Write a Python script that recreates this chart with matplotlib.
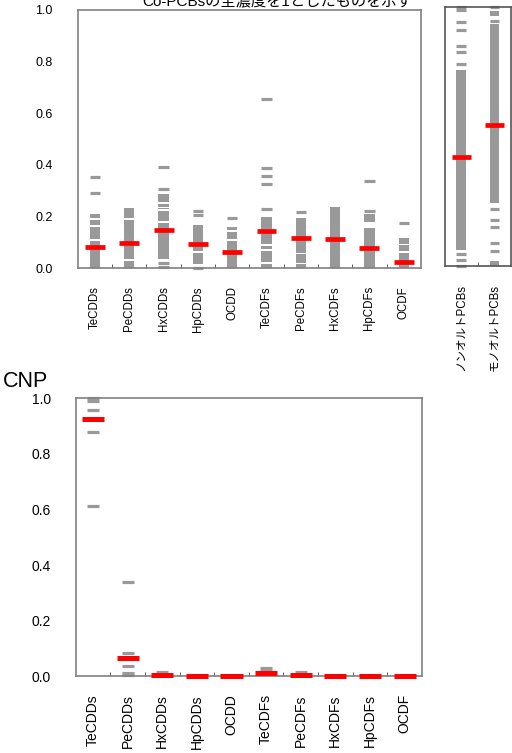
import matplotlib
matplotlib.use("Agg")
import matplotlib.pyplot as plt

plt.rcParams['font.family'] = ['Liberation Sans', 'Noto Sans CJK JP', 'DejaVu Sans']

GRAY = '#999999'
RED = '#ff0000'
EDGE = '#808080'

# --- data ---
dxn_labels = ['TeCDDs', 'PeCDDs', 'HxCDDs', 'HpCDDs', 'OCDD',
              'TeCDFs', 'PeCDFs', 'HxCDFs', 'HpCDFs', 'OCDF']

# top panel: individual sample ratios (isolated dashes) and dense ranges
top_dashes = [
    [0.353, 0.292],
    [],
    [0.393, 0.307, 0.018, 0.003],
    [0.222, 0.204, 0.0],
    [0.193],
    [0.655, 0.389, 0.357, 0.324, 0.229],
    [0.218],
    [],
    [0.338, 0.221],
    [0.176],
]
top_bands = [
    [(0.0, 0.105), (0.113, 0.160), (0.166, 0.188), (0.194, 0.210)],
    [(0.0, 0.027), (0.034, 0.187), (0.193, 0.234)],
    [(0.036, 0.176), (0.183, 0.222), (0.228, 0.232), (0.237, 0.248), (0.254, 0.288)],
    [(0.014, 0.058), (0.065, 0.165)],
    [(0.0, 0.106), (0.112, 0.140), (0.146, 0.160)],
    [(0.0, 0.015), (0.022, 0.066), (0.073, 0.086), (0.092, 0.199)],
    [(0.0, 0.015), (0.021, 0.054), (0.060, 0.195)],
    [(0.0, 0.238)],
    [(0.0, 0.156), (0.180, 0.208)],
    [(0.0, 0.060), (0.066, 0.088), (0.094, 0.117)],
]
top_median = [0.080, 0.097, 0.147, 0.094, 0.061, 0.143, 0.117, 0.111, 0.079, 0.024]

pcb_labels = ['ノンオルトPCBs', 'モノオルトPCBs']
pcb_dashes = [
    [1.0, 0.988, 0.942, 0.911, 0.849, 0.824, 0.780, 0.045, 0.022, 0.0],
    [1.0, 0.947, 0.220, 0.178, 0.148, 0.088, 0.059],
]
pcb_bands = [
    [(0.062, 0.757)],
    [(0.963, 0.985), (0.244, 0.934), (0.0, 0.017)],
]
pcb_median = [0.42, 0.543]

cnp_dashes = [
    [1.0, 0.99, 0.959, 0.879, 0.612],
    [0.338, 0.085, 0.038, 0.012, 0.004],
    [0.014],
    [],
    [],
    [0.028, 0.018],
    [0.015],
    [],
    [],
    [],
]
cnp_median = [0.927, 0.066, 0.003, 0.0, 0.0, 0.01, 0.003, 0.0, 0.0, 0.0]

title = 'Co-PCBsの全濃度を1としたものを示す'


def draw_panel(ax, dashes, bands, median, gw, rw, glw, rlw):
    for i in range(len(median)):
        for lo, hi in bands[i] if bands else []:
            ax.bar(i, hi - lo, bottom=lo, width=gw, color=GRAY, clip_on=False, zorder=2)
        if dashes[i]:
            ax.hlines(dashes[i], i - gw / 2, i + gw / 2, color=GRAY, lw=glw,
                      clip_on=False, zorder=2)
    ax.hlines(median, [i - rw / 2 for i in range(len(median))],
              [i + rw / 2 for i in range(len(median))], color=RED, lw=rlw,
              clip_on=False, zorder=3)


def style(ax, labels, lab_size, tick_size, show_y=True):
    n = len(labels)
    ax.set_xlim(-0.5, n - 0.5)
    ax.set_ylim(0, 1.0)
    ax.set_xticks(range(n))
    ax.set_xticklabels(labels, rotation=90, fontsize=lab_size, va='top')
    ax.set_xticks([i + 0.5 for i in range(n - 1)], minor=True)
    ax.tick_params(axis='x', which='major', length=0, pad=13)
    ax.tick_params(axis='x', which='minor', length=3, direction='in', color='#444444')
    if show_y:
        ax.set_yticks([0, 0.2, 0.4, 0.6, 0.8, 1.0])
        ax.set_yticklabels(['0.0', '0.2', '0.4', '0.6', '0.8', '1.0'], fontsize=tick_size)
        ax.tick_params(axis='y', length=0, pad=18)
    else:
        ax.set_yticks([])
    for s in ax.spines.values():
        s.set_color(EDGE)
        s.set_linewidth(1.2)


fig = plt.figure(figsize=(5.12, 7.53), dpi=100)

ax1 = fig.add_axes([0.152, 0.644, 0.670, 0.343])
draw_panel(ax1, top_dashes, top_bands, top_median, 0.30, 0.58, 2.3, 3.4)
style(ax1, dxn_labels, 8.3, 9)

ax2 = fig.add_axes([0.869, 0.647, 0.129, 0.344])
draw_panel(ax2, pcb_dashes, pcb_bands, pcb_median, 0.30, 0.58, 2.3, 3.4)
style(ax2, pcb_labels, 8.3, 9, show_y=False)
for s in ax2.spines.values():
    s.set_color('#555555')

ax3 = fig.add_axes([0.148, 0.102, 0.676, 0.369])
draw_panel(ax3, cnp_dashes, None, cnp_median, 0.35, 0.64, 2.3, 3.6)
style(ax3, dxn_labels, 10, 10)

fig.text(0.541, 0.999, title, ha='center', va='center', fontsize=11)
fig.text(0.006, 0.494, 'CNP', ha='left', va='center', fontsize=15.5)

fig.savefig('out.png', dpi=100)
